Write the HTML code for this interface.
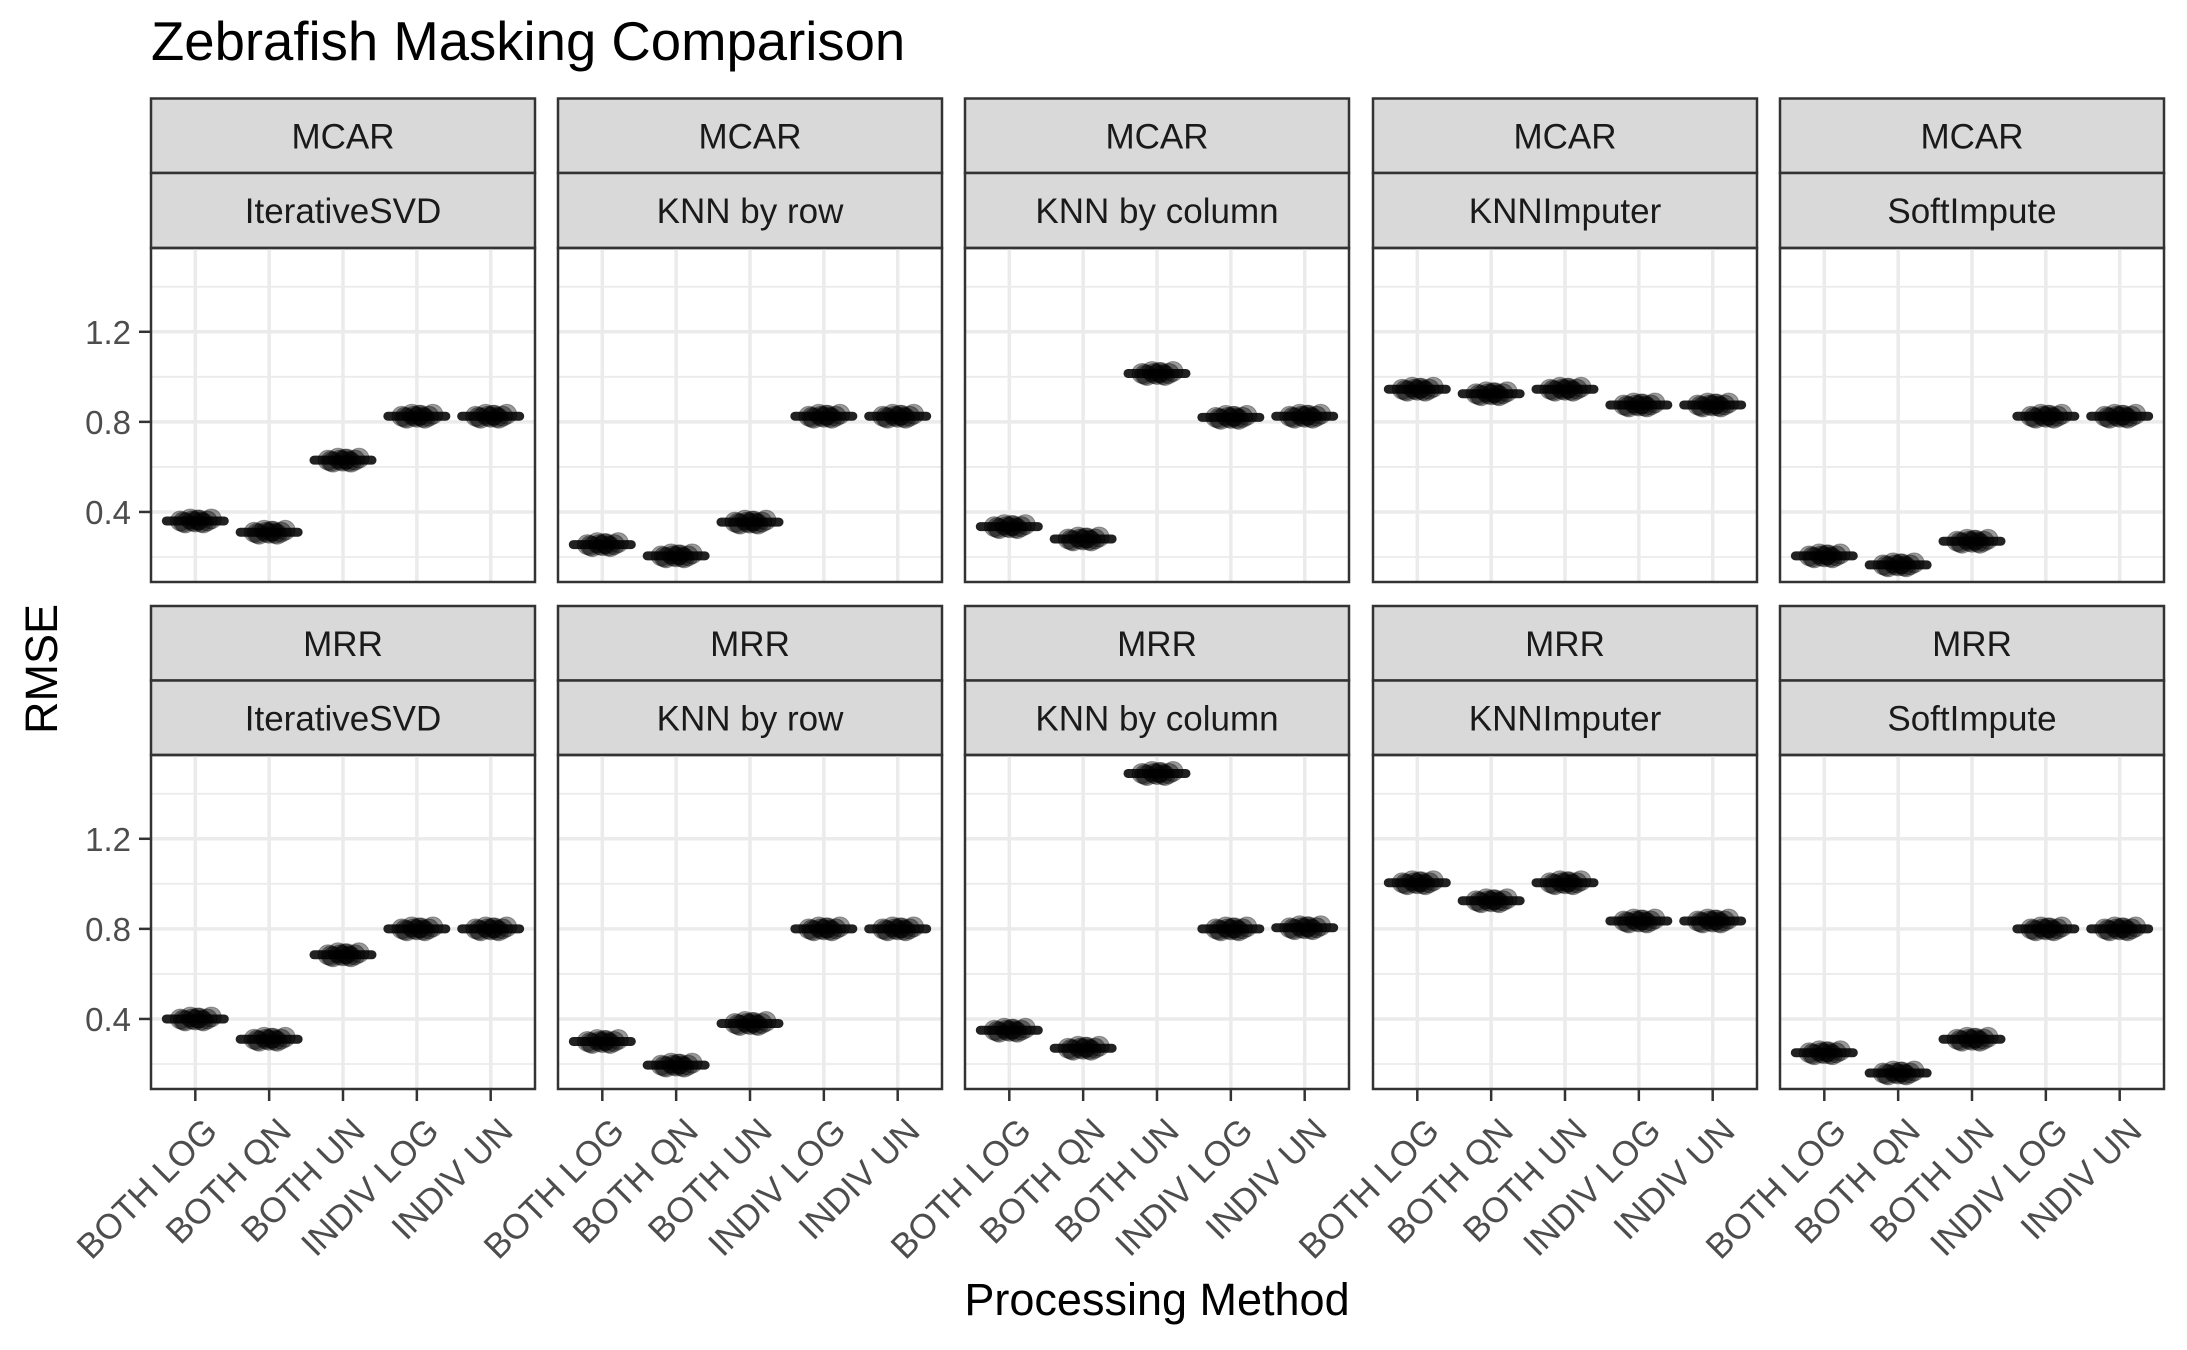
<!DOCTYPE html>
<html><head><meta charset="utf-8"><style>
html,body{margin:0;padding:0;background:#fff;}
svg{display:block;font-family:"Liberation Sans",Arial,sans-serif;}
</style></head><body>
<svg id="chart" width="2187" height="1350" viewBox="0 0 2187 1350" xmlns="http://www.w3.org/2000/svg">
<rect x="0" y="0" width="2187" height="1350" fill="#fff"/>
<text x="151" y="60" font-size="54.5" fill="#000">Zebrafish Masking Comparison</text>
<text x="1157" y="1315" font-size="45" text-anchor="middle" fill="#000">Processing Method</text>
<text transform="translate(57,669) rotate(-90)" font-size="45" text-anchor="middle" fill="#000">RMSE</text>
<g id="panels"></g>
</svg>
<script>
const categories = ["BOTH LOG","BOTH QN","BOTH UN","INDIV LOG","INDIV UN"];
const methods = ["IterativeSVD","KNN by row","KNN by column","KNNImputer","SoftImpute"];
const maskings = ["MCAR","MRR"];
const yTicks = [0.4,0.8,1.2];
const yTickLabels = ["0.4","0.8","1.2"];
const yMinor = [0.2,0.6,1.0,1.4];
const mcarIterativeSVD = [0.36,0.31,0.63,0.825,0.825];
const mcarKnnRow = [0.255,0.205,0.355,0.825,0.825];
const mcarKnnCol = [0.335,0.28,1.015,0.82,0.825];
const mcarKnnImputer = [0.945,0.925,0.945,0.875,0.875];
const mcarSoftImpute = [0.205,0.165,0.27,0.825,0.825];
const mrrIterativeSVD = [0.40,0.31,0.685,0.80,0.80];
const mrrKnnRow = [0.30,0.195,0.38,0.80,0.80];
const mrrKnnCol = [0.35,0.27,1.49,0.80,0.805];
const mrrKnnImputer = [1.005,0.925,1.005,0.835,0.835];
const mrrSoftImpute = [0.25,0.16,0.31,0.80,0.80];
const seriesValues = [
  [mcarIterativeSVD,mcarKnnRow,mcarKnnCol,mcarKnnImputer,mcarSoftImpute],
  [mrrIterativeSVD,mrrKnnRow,mrrKnnCol,mrrKnnImputer,mrrSoftImpute]
];

const NS = "http://www.w3.org/2000/svg";
const g = document.getElementById("panels");
const panelLefts = [151,558,965,1373,1780];
const panelW = 384;
const rows = [{stripTop:98.5, panelTop:248, panelBottom:582},{stripTop:606, panelTop:755, panelBottom:1089}];
const yMin = 0.089, yMax = 1.572;
function mk(tag, attrs, parent){const e=document.createElementNS(NS,tag);for(const k in attrs)e.setAttribute(k,attrs[k]);(parent||g).appendChild(e);return e;}
function xScale(i, left){return left + panelW*(i+0.6)/5.2;}
function yScale(v, row){const r=rows[row];return r.panelBottom - (v-yMin)/(yMax-yMin)*(r.panelBottom-r.panelTop);}
const jitter = [-15,-10,-5,0,4,8,12,16,-12,2,-3,6];
const jy = [0,2,-2,1,-1,2,0,-2,1,-1,0,1];

for(let r=0;r<2;r++){
  const R=rows[r];
  for(let p=0;p<5;p++){
    const L=panelLefts[p];
    const pg=mk("g",{});
    
    
    const s1=mk("rect",{x:L,y:R.stripTop,width:panelW,height:74.5,fill:"#d9d9d9",stroke:"#333",'stroke-width':2.5},pg);
    
    
    const s2=mk("rect",{x:L,y:R.stripTop+74.5,width:panelW,height:R.panelTop-R.stripTop-74.5,fill:"#d9d9d9",stroke:"#333",'stroke-width':2.5},pg);
    
    
    const t1=mk("text",{x:L+panelW/2,y:R.stripTop+50,'font-size':35,'text-anchor':'middle',fill:'#1a1a1a'},pg);
    t1.textContent=maskings[r];
    
    
    const t2=mk("text",{x:L+panelW/2,y:R.stripTop+124.5,'font-size':35,'text-anchor':'middle',fill:'#1a1a1a'},pg);
    t2.textContent=methods[p];
    
    
    for(const v of yMinor){const y=yScale(v,r);const l=mk("line",{x1:L,x2:L+panelW,y1:y,y2:y,stroke:"#ebebeb",'stroke-width':1.8},pg);}
    for(const v of yTicks){const y=yScale(v,r);const l=mk("line",{x1:L,x2:L+panelW,y1:y,y2:y,stroke:"#ebebeb",'stroke-width':3.5},pg);}
    for(let i=0;i<5;i++){const x=xScale(i,L);const l=mk("line",{x1:x,x2:x,y1:R.panelTop,y2:R.panelBottom,stroke:"#ebebeb",'stroke-width':3.5},pg);}
    const vals=seriesValues[r][p];
    for(let i=0;i<5;i++){
      const x=xScale(i,L), y=yScale(vals[i],r);
      const bar=mk("line",{x1:x-29,x2:x+29,y1:y,y2:y,stroke:"#222",'stroke-width':9,'stroke-linecap':'round'},pg);
      
      
      for(let k=0;k<jitter.length;k++){
        const c=mk("circle",{cx:x+jitter[k],cy:y+jy[k],r:10,fill:"#000",'fill-opacity':0.4,stroke:"#000",'stroke-opacity':0.3},pg);
        
        
      }
    }
    const b=mk("rect",{x:L,y:R.panelTop,width:panelW,height:R.panelBottom-R.panelTop,fill:"none",stroke:"#333",'stroke-width':2.5},pg);
    
    
    if(p===0){
      for(let t=0;t<yTicks.length;t++){
        const y=yScale(yTicks[t],r);
        const tk=mk("line",{x1:L-12,x2:L,y1:y,y2:y,stroke:"#333",'stroke-width':2.5},pg);
        
        
        const tl=mk("text",{x:L-20,y:y+12,'font-size':33,'text-anchor':'end',fill:'#4d4d4d'},pg);
        tl.textContent=yTickLabels[t];
        
        
      }
    }
    if(r===1){
      for(let i=0;i<5;i++){
        const x=xScale(i,L);
        const tk=mk("line",{x1:x,x2:x,y1:R.panelBottom,y2:R.panelBottom+12,stroke:"#333",'stroke-width':2.5},pg);
        
        
        const tl=mk("text",{transform:'translate('+(x+24)+','+(R.panelBottom+44)+') rotate(-45)','font-size':35,'text-anchor':'end',fill:'#4d4d4d'},pg);
        tl.textContent=categories[i];
        
        
      }
    }
  }
}
</script>
</body></html>
